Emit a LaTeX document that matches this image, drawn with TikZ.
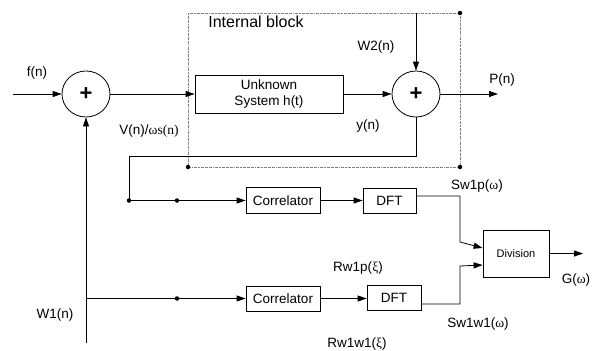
\documentclass[tikz,border=0pt]{standalone}
\usepackage{fontspec}
\setmainfont{Liberation Sans}
\newfontfamily\grk{Liberation Serif}
\usetikzlibrary{arrows.meta,shapes.geometric,calc}
\begin{document}
\begin{tikzpicture}[x=1pt,y=-1pt,
  line width=0.8pt,
  >={Triangle[length=9pt,width=6pt]},
  blk/.style={draw, rectangle, inner sep=0pt, font=\fontsize{13.5}{16}\selectfont, align=center},
  sumnode/.style={draw, ellipse, minimum width=48pt, minimum height=46pt, inner sep=0pt, font=\fontsize{22}{22}\selectfont\bfseries},
  lbl/.style={font=\fontsize{13.5}{16}\selectfont, inner sep=0pt},
  dotn/.style={circle, fill, inner sep=0pt, minimum size=4.5pt},
  ibox/.style={gray, line width=0.7pt, dash pattern=on 2pt off 0.8pt on 0.6pt off 0.8pt}]
\useasboundingbox (0,0) rectangle (598,351);

% internal block frame
\coordinate (ibTL) at (188,13);
\coordinate (ibBR) at (460,167);
\draw[ibox] (ibTL) rectangle (ibBR);
\node[dotn] (dTR) at (460,13) {};
\node[dotn] (dBR) at (460,167) {};
\node[dotn] (dBL) at (188,167) {};
\node[lbl, font=\fontsize{16}{18}\selectfont, anchor=west] (ibl) at (208,22) {Internal block};

% blocks
\node[sumnode] (s1) at (86,94) {+};
\node[sumnode] (s2) at (416,94) {+};
\node[blk, minimum width=148pt, minimum height=38pt] (unk) at (269,94) {Unknown\\System h(t)};
\node[blk, minimum width=74pt, minimum height=26pt] (c1) at (283,200.5) {Correlator};
\node[blk, minimum width=53pt, minimum height=25pt] (d1) at (389.5,200.5) {DFT};
\node[blk, minimum width=74pt, minimum height=25pt] (c2) at (283,298.5) {Correlator};
\node[blk, minimum width=54pt, minimum height=25pt] (d2) at (394,297.5) {DFT};
\node[blk, minimum width=66pt, minimum height=47pt, font=\fontsize{11}{13}\selectfont] (div) at (516,253.5) {Division};

% coordinates
\coordinate (fin) at (13,94);
\coordinate (w2top) at (416,13);
\coordinate (pout) at (498,94);
\coordinate (fb1) at (416,156);
\coordinate (fb2) at (129,156);
\node[dotn] (j1) at (129,200.5) {};
\node[dotn] (j2) at (177,200.5) {};
\coordinate (w1b) at (86,343);
\coordinate (br) at (86,298.5);
\node[dotn] (j3) at (177,298.5) {};
\coordinate (a2) at (460,242);
\coordinate (b2) at (460,266);
\coordinate (gout) at (583,253.5);

% connectors
\draw[->] (fin) -- (s1);
\draw[->] (s1) -- (unk);
\draw[->] (unk) -- (s2);
\draw[->] (w2top) -- (s2);
\draw[->] (s2) -- (pout);
\draw (s2.south) -- (fb1) -- (fb2) -- (j1.center);
\draw[->] (j1.center) -- (j2.center) -- (c1.west);
\draw[->] (c1) -- (d1);
\draw[->] ($(d1.east)+(0,-4.5)$) -| (a2) -- ($(div.west)+(0,-5.5)$);
\draw[->] (w1b) -- (s1);
\draw[->] (br) -- (j3.center) -- (c2.west);
\draw[->] (c2.east) -- (c2.east -| d2.west);
\draw[->] ($(d2.east)+(0,6.5)$) -| (b2) -- ($(div.west)+(0,11.5)$);
\draw[->] (div) -- (gout);

% labels
\node[lbl] (lf) at (37,73) {f(n)};
\node[lbl] (lv) at (149,131) {V(n)/{\grk ωs(n)}};
\node[lbl] (lw2) at (376,47) {W2(n)};
\node[lbl] (ly) at (368,126) {y(n)};
\node[lbl] (lp) at (502,80) {P(n)};
\node[lbl] (ls1) at (477,186) {Sw1p({\grk ω})};
\node[lbl] (lr1) at (358,268) {Rw1p({\grk ξ})};
\node[lbl] (lg) at (576,280) {G({\grk ω})};
\node[lbl] (ls2) at (478,324) {Sw1w1({\grk ω})};
\node[lbl] (lr2) at (357,344) {Rw1w1({\grk ξ})};
\node[lbl] (lw1) at (55,315) {W1(n)};
\end{tikzpicture}
\end{document}
